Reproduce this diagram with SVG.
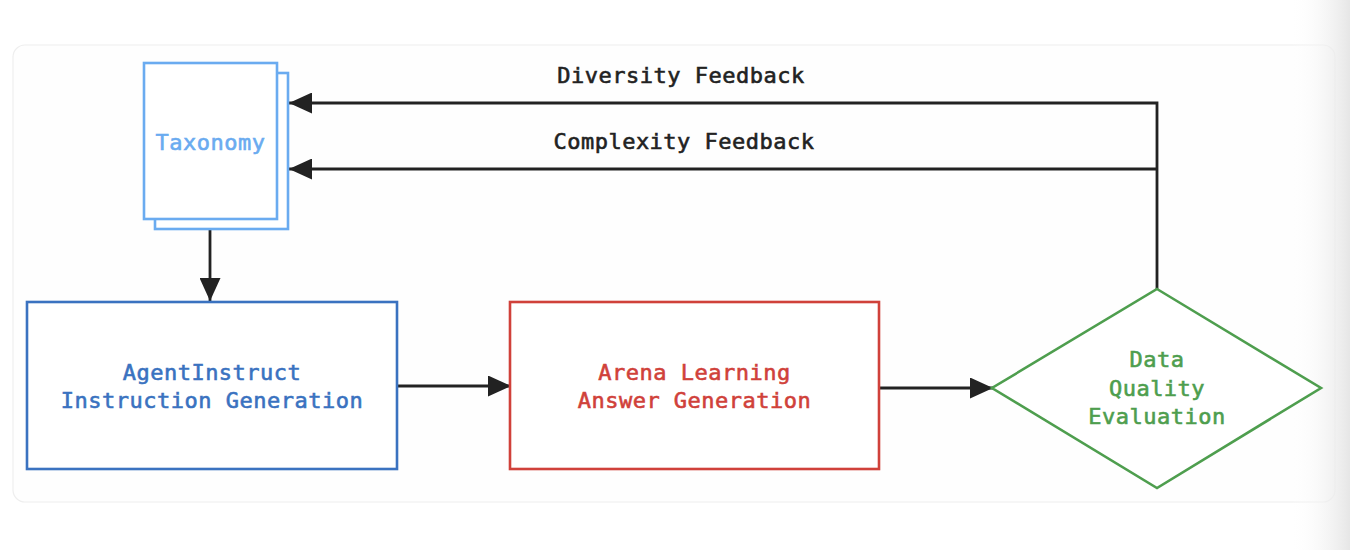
<svg xmlns="http://www.w3.org/2000/svg" width="1350" height="550" viewBox="0 0 1350 550">
  <defs>
    <marker id="arr" viewBox="0 0 23 21" refX="23" refY="10.5" markerWidth="23" markerHeight="21" markerUnits="userSpaceOnUse" orient="auto">
      <path d="M0,0 L23,10.5 L0,21 Z" fill="#222"/>
    </marker>
    <linearGradient id="shade" x1="0" y1="0" x2="1" y2="0">
      <stop offset="0" stop-color="#ffffff" stop-opacity="0"/>
      <stop offset="1" stop-color="#e6e6e6" stop-opacity="1"/>
    </linearGradient>
    <style>
      .lbl { font-family: "DejaVu Sans Mono", "Liberation Mono", monospace; font-size: 22px; font-weight: normal; letter-spacing: 0.5px; text-anchor: middle; stroke-width: 0.6px; }
      .conn { stroke: #222; stroke-width: 2.8; fill: none; }
    </style>
  </defs>
  <rect width="1350" height="550" fill="#ffffff"/>
  <rect x="13" y="45" width="1322" height="457" rx="12" fill="#fefefe" stroke="#eeeeee" stroke-width="1.2"/>
  <rect x="1290" y="0" width="60" height="550" fill="url(#shade)"/>

  <g id="connectors">
    <line class="conn" x1="210" y1="219" x2="210" y2="301" marker-end="url(#arr)"/>
    <line class="conn" x1="397" y1="386" x2="511" y2="386" marker-end="url(#arr)"/>
    <line class="conn" x1="879" y1="388" x2="993" y2="388" marker-end="url(#arr)"/>
    <polyline class="conn" points="1157,289 1157,103 289,103" marker-end="url(#arr)"/>
    <polyline class="conn" points="1157,169 289,169" marker-end="url(#arr)"/>
    <text class="lbl" x="681" y="83" fill="#222" stroke="#222">Diversity Feedback</text>
    <text class="lbl" x="684" y="149" fill="#222" stroke="#222">Complexity Feedback</text>
  </g>

  <g id="taxonomy">
    <rect x="155" y="73" width="133" height="156" fill="#ffffff" stroke="#6aabf0" stroke-width="2.6"/>
    <rect x="144" y="63" width="133" height="156" fill="#ffffff" stroke="#6aabf0" stroke-width="2.6"/>
    <text class="lbl" x="210.5" y="150" fill="#6aabf0" stroke="#6aabf0">Taxonomy</text>
  </g>

  <g id="agentinstruct">
    <rect x="27" y="302" width="370" height="167" fill="#ffffff" stroke="#3a72c0" stroke-width="2.6"/>
    <text class="lbl" x="212" y="380" fill="#3a72c0" stroke="#3a72c0">AgentInstruct</text>
    <text class="lbl" x="212" y="408" fill="#3a72c0" stroke="#3a72c0">Instruction Generation</text>
  </g>

  <g id="arena">
    <rect x="510" y="302" width="369" height="167" fill="#ffffff" stroke="#d0413a" stroke-width="2.6"/>
    <text class="lbl" x="694.5" y="380" fill="#d0413a" stroke="#d0413a">Arena Learning</text>
    <text class="lbl" x="694.5" y="408" fill="#d0413a" stroke="#d0413a">Answer Generation</text>
  </g>

  <g id="evaluation">
    <polygon points="1157,289 1321,388 1157,488 992,388" fill="#ffffff" stroke="#4e9e4e" stroke-width="2.6"/>
    <text class="lbl" x="1157" y="367" fill="#4e9e4e" stroke="#4e9e4e">Data</text>
    <text class="lbl" x="1157" y="396" fill="#4e9e4e" stroke="#4e9e4e">Quality</text>
    <text class="lbl" x="1157" y="424" fill="#4e9e4e" stroke="#4e9e4e">Evaluation</text>
  </g>
</svg>
